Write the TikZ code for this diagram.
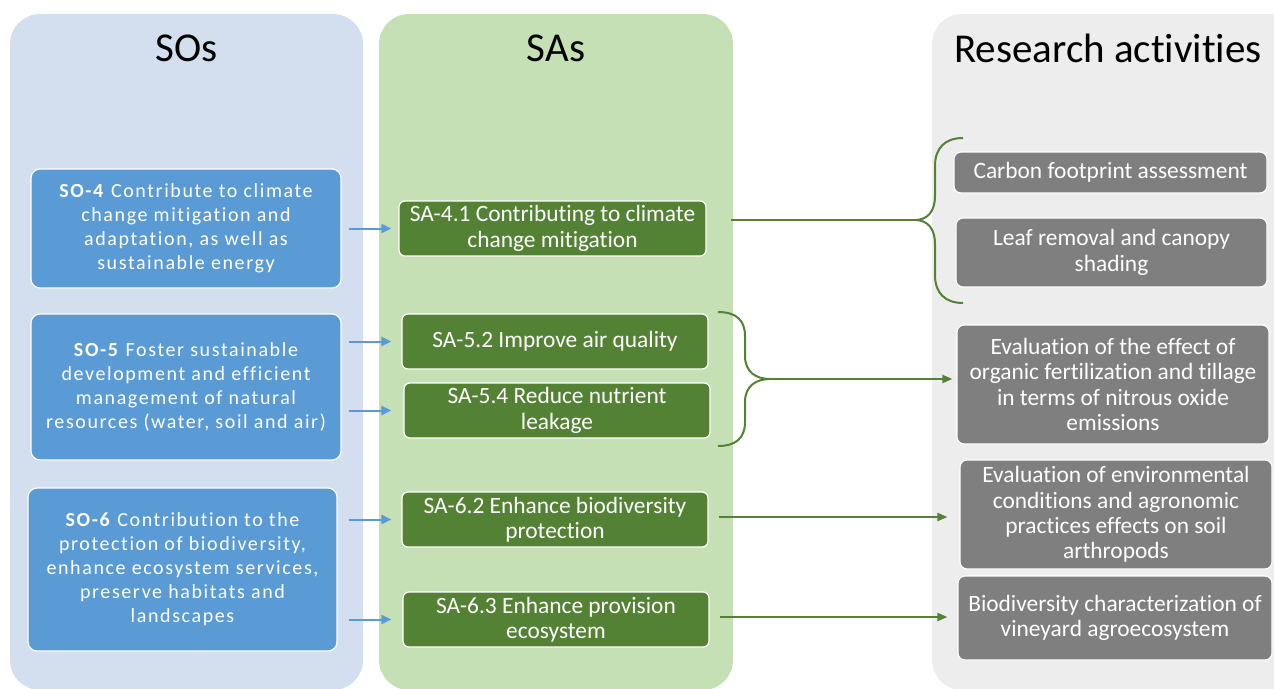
\documentclass[tikz,border=0pt]{standalone}
\usepackage{fontspec}
\setmainfont[Ligatures=NoCommon]{Carlito}
\newfontfamily\sofont[LetterSpace=8,Ligatures=NoCommon]{Carlito}
\usetikzlibrary{arrows.meta}
\definecolor{sopanel}{HTML}{D3DEEF}
\definecolor{sapanel}{HTML}{C5E0B4}
\definecolor{rapanel}{HTML}{EDEDED}
\definecolor{sobox}{HTML}{5B9BD5}
\definecolor{sabox}{HTML}{548235}
\definecolor{rabox}{HTML}{7F7F7F}
\tikzset{
  panel/.style={rounded corners=30pt, draw=none},
  ttl/.style={font=\fontsize{41}{44}\selectfont, text=black, anchor=center},
  sonode/.style={rectangle, rounded corners=9pt, fill=sobox, draw=white, line width=1.2pt,
    text=white, align=center, inner sep=0pt, font=\sofont\fontsize{20}{24}\selectfont},
  sanode/.style={rectangle, rounded corners=6pt, fill=sabox, draw=white, line width=1.2pt,
    text=white, align=center, inner sep=0pt, minimum width=306pt, minimum height=55pt,
    font=\fontsize{23.4}{25.3}\selectfont},
  ranode/.style={rectangle, rounded corners=7pt, fill=rabox, draw=white, line width=1.2pt,
    text=white, align=center, inner sep=0pt, font=\fontsize{23.4}{25.3}\selectfont},
  bluearrow/.style={draw=sobox, line width=2pt, -{Triangle[length=10pt,width=9pt]}},
  greenline/.style={draw=sabox, line width=2pt},
  greenarrow/.style={draw=sabox, line width=2pt, -{Triangle[length=10pt,width=8pt]}},
}
\begin{document}
\begin{tikzpicture}[x=1pt,y=-1pt]
\useasboundingbox (0,0) rectangle (1274,688);
% panels
\fill[sopanel, panel] (10,14) rectangle (363,690);
\fill[sapanel, panel] (379,14) rectangle (733,690);
\fill[rapanel, panel] (932,14) rectangle (1300,690);
% titles
\node[ttl] (tso) at (186.5,48) {SOs};
\node[ttl] (tsa) at (556,48) {SAs};
\node[ttl] (tra) at (1108,48) {Research activities};
% SO boxes
\node[sonode, minimum width=310pt, minimum height=119pt] (SO4) at (186,228.5)
  {\textbf{SO-4} Contribute to climate\\change mitigation and\\adaptation, as well as\\sustainable energy};
\node[sonode, minimum width=310pt, minimum height=146pt] (SO5) at (186,387)
  {\textbf{SO-5} Foster sustainable\\development and efficient\\management of natural\\resources (water, soil and air)};
\node[sonode, minimum width=309pt, minimum height=163pt] (SO6) at (182.5,569.5)
  {\textbf{SO-6} Contribution to the\\protection of biodiversity,\\enhance ecosystem services,\\preserve habitats and\\landscapes};
% SA boxes
\node[sanode, minimum width=307pt] (SA41) at (552.5,228.5) {SA-4.1 Contributing to climate\\change mitigation};
\node[sanode] (SA52) at (555,341.5) {SA-5.2 Improve air quality};
\node[sanode] (SA54) at (557,410.5) {SA-5.4 Reduce nutrient\\leakage};
\node[sanode] (SA62) at (555,519.5) {SA-6.2 Enhance biodiversity\\protection};
\node[sanode] (SA63) at (556,619.5) {SA-6.3 Enhance provision\\ecosystem};
% research activity boxes
\node[ranode, minimum width=313pt, minimum height=41pt] (RA1) at (1110.5,172.5) {Carbon footprint assessment};
\node[ranode, minimum width=311pt, minimum height=69pt] (RA2) at (1111.5,252.5) {Leaf removal and canopy\\shading};
\node[ranode, minimum width=312pt, minimum height=119pt] (RA3) at (1113,384.5) {Evaluation of the effect of\\organic fertilization and tillage\\in terms of nitrous oxide\\emissions};
\node[ranode, minimum width=312pt, minimum height=109pt] (RA4) at (1116,514.5) {Evaluation of environmental\\conditions and agronomic\\practices effects on soil\\arthropods};
\node[ranode, minimum width=314pt, minimum height=84pt] (RA5) at (1115,618) {Biodiversity characterization of\\vineyard agroecosystem};
% blue arrows
\draw[bluearrow, shorten <=7pt, shorten >=7pt] (SO4.east |- SA41.west) -- (SA41.west);
\draw[bluearrow, shorten <=7pt, shorten >=10pt] (SO5.east |- SA52.west) -- (SA52.west);
\draw[bluearrow, shorten <=7pt, shorten >=12pt] (SO5.east |- SA54.west) -- (SA54.west);
\draw[bluearrow, shorten <=11pt, shorten >=10pt] (SO6.east |- SA62.west) -- (SA62.west);
\draw[bluearrow, shorten <=11pt, shorten >=11pt] (SO6.east |- SA63.west) -- (SA63.west);
% brace 1 (left brace before research activities)
\coordinate (b1tip) at (915,220);
\coordinate (b1top) at (963,138);
\coordinate (b1bot) at (963,303);
\draw[greenline, shorten <=24pt] (SA41.east |- b1tip) -- (b1tip);
\draw[greenline] (b1top) .. controls (945,138) and (935,148) .. (935,166) -- (935,196)
  .. controls (935,212) and (927,220) .. (b1tip)
  .. controls (927,220) and (935,228) .. (935,244) -- (935,275)
  .. controls (935,293) and (945,303) .. (b1bot);
% brace 2 (right brace after SA-5.2 / SA-5.4)
\coordinate (b2tip) at (770,379);
\coordinate (b2top) at (718,312);
\coordinate (b2bot) at (718,446);
\draw[greenline] (b2top) .. controls (736,312) and (745,320) .. (745,336) -- (745,356)
  .. controls (745,372) and (756,379) .. (b2tip)
  .. controls (756,379) and (745,386) .. (745,402) -- (745,422)
  .. controls (745,438) and (736,446) .. (b2bot);
\draw[greenarrow, shorten >=4pt] (b2tip) -- (b2tip -| RA3.west);
% direct arrows
\draw[greenarrow, shorten <=10pt, shorten >=12pt] (SA62.east |- 0,517) -- (RA4.west |- 0,517);
\draw[greenarrow, shorten <=10pt, shorten >=10pt] (SA63.east |- 0,617) -- (RA5.west |- 0,617);
\end{tikzpicture}
\end{document}
